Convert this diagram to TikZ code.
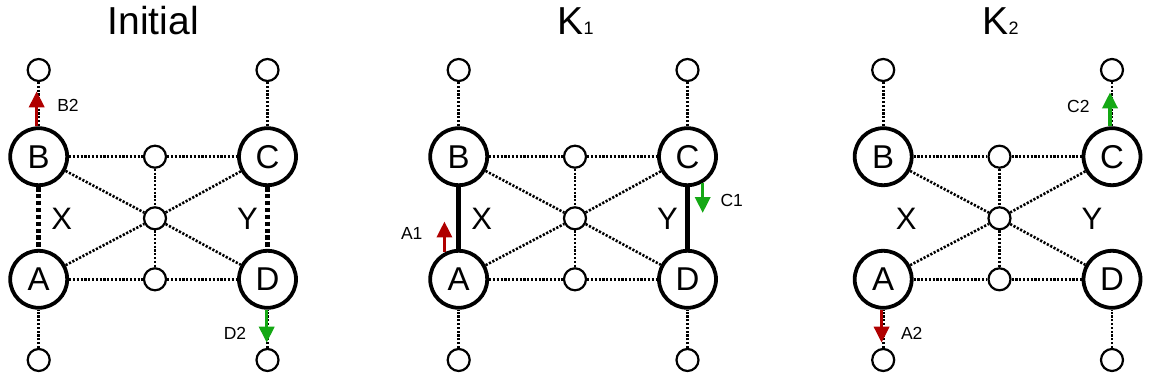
\documentclass[tikz,border=0pt]{standalone}
\usepackage{xcolor}
\usepackage{fontspec}
\setmainfont{Liberation Sans}
\usepackage{tikz}
\usetikzlibrary{arrows.meta,positioning}
\definecolor{ARed}{HTML}{B00000}
\definecolor{AGreen}{HTML}{14A814}

\begin{document}
\begin{tikzpicture}[
  x=1pt,y=-1pt,
  every node/.style={font=\fontsize{31}{31}\selectfont},
  big/.style={circle,draw,line width=3.8pt,minimum size=57pt,inner sep=0pt,
    font=\fontsize{33}{33}\selectfont},
  small/.style={circle,draw,line width=2.2pt,minimum size=22pt,inner sep=0pt},
  link/.style={line width=2.6pt,dash pattern=on 2.2pt off 1.6pt},
  bond/.style={line width=4.6pt,dash pattern=on 4.5pt off 2.4pt},
  tie/.style={line width=4.5pt},
  arr/.style={-{Triangle[length=16pt,width=15pt]},line width=3.5pt},
  tag/.style={font=\fontsize{17.5}{17.5}\selectfont},
  title/.style={font=\fontsize{39}{39}\selectfont,anchor=base}
]
  \useasboundingbox (0,0) rectangle (1152,385);
  % common skeleton of the three panels
  \foreach \p/\ox in {i/0,k/420,m/844.5} {
    \node[big] (\p-B) at (\ox+38.7,156.7) {B};
    \node[big] (\p-C) at (\ox+267.5,156.7) {C};
    \node[big] (\p-A) at (\ox+38.7,279.3) {A};
    \node[big] (\p-D) at (\ox+267.5,279.3) {D};
    \node[small] (\p-mt) at (\ox+155,156.7) {};
    \node[small] (\p-mc) at (\ox+155,218.3) {};
    \node[small] (\p-mb) at (\ox+155,279.3) {};
    \node[small] (\p-tB) at (\ox+38.7,70) {};
    \node[small] (\p-tC) at (\ox+267.5,70) {};
    \node[small] (\p-bA) at (\ox+38.7,360) {};
    \node[small] (\p-bD) at (\ox+267.5,360) {};
    \node (\p-X) at (\ox+61.7,219) {X};
    \node (\p-Y) at (\ox+247.5,219) {Y};
    \draw[link] (\p-B) -- (\p-mt) -- (\p-C);
    \draw[link] (\p-A) -- (\p-mb) -- (\p-D);
    \draw[link] (\p-mt) -- (\p-mc) -- (\p-mb);
    \draw[link] (\p-B) -- (\p-mc) -- (\p-D);
    \draw[link] (\p-A) -- (\p-mc) -- (\p-C);
    \draw[link] (\p-tB) -- (\p-B);
    \draw[link] (\p-tC) -- (\p-C);
    \draw[link] (\p-bA) -- (\p-A);
    \draw[link] (\p-bD) -- (\p-D);
  }
  % titles
  \node[title] (i-title) at (153.3,35) {Initial};
  \node[title] (k-title) at (575.5,35) {K\fontsize{18}{18}\selectfont 1};
  \node[title] (m-title) at (1000.5,35) {K\fontsize{18}{18}\selectfont 2};
  % Initial
  \draw[bond] (i-B) -- (i-A);
  \draw[bond] (i-C) -- (i-D);
  \coordinate (i-B2end) at ([xshift=-2pt,yshift=35pt]i-B.north);
  \draw[arr,ARed] ([xshift=-2pt]i-B.north) -- (i-B2end);
  \node[tag] (i-B2) at (68,105) {B2};
  \coordinate (i-D2end) at ([xshift=-0.8pt,yshift=-33pt]i-D.south);
  \draw[arr,AGreen] ([xshift=-0.8pt]i-D.south) -- (i-D2end);
  \node[tag] (i-D2) at (235,333) {D2};
  % K1
  \draw[tie] (k-B) -- (k-A);
  \draw[tie] (k-C) -- (k-D);
  \coordinate (k-A1end) at ([yshift=31pt]k-A.118);
  \draw[arr,ARed] (k-A.118) -- (k-A1end);
  \node[tag] (k-A1) at (411.7,233.3) {A1};
  \coordinate (k-C1end) at ([yshift=-30pt]k-C.-60);
  \draw[arr,AGreen] (k-C.-60) -- (k-C1end);
  \node[tag] (k-C1) at (731.7,200) {C1};
  % K2
  \coordinate (m-C2end) at ([xshift=-2pt,yshift=34pt]m-C.north);
  \draw[arr,AGreen] ([xshift=-2pt]m-C.north) -- (m-C2end);
  \node[tag] (m-C2) at (1078.3,106) {C2};
  \coordinate (m-A2end) at ([xshift=-1.6pt,yshift=-33pt]m-A.south);
  \draw[arr,ARed] ([xshift=-1.6pt]m-A.south) -- (m-A2end);
  \node[tag] (m-A2) at (911.7,333) {A2};
\end{tikzpicture}
\end{document}
